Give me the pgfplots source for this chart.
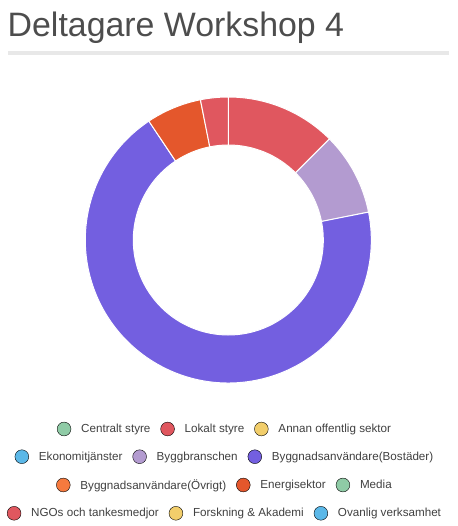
\documentclass[border=0pt]{standalone}
\usepackage{pgfplots}
\usepackage{pgfplotstable}
\pgfplotsset{compat=1.18}
\usepackage{fontspec}
\setmainfont{Liberation Sans}

\definecolor{cCentral}{HTML}{8FCBA6}
\definecolor{cLokalt}{HTML}{E0575F}
\definecolor{cAnnan}{HTML}{F2CE6B}
\definecolor{cEkonomi}{HTML}{5BB8E8}
\definecolor{cBygg}{HTML}{B39BD0}
\definecolor{cBostad}{HTML}{735FE0}
\definecolor{cOvrigt}{HTML}{F67A3E}
\definecolor{cEnergi}{HTML}{E4572C}
\definecolor{titlegray}{HTML}{4D4D4D}
\definecolor{legendgray}{HTML}{404040}
\definecolor{rulegray}{HTML}{E8E8E8}

% participants per sector, legend order (clockwise from the top)
\pgfplotstableread[col sep=comma]{
sector,value,color
Centralt styre,0,cCentral
Lokalt styre,4,cLokalt
Annan offentlig sektor,0,cAnnan
Ekonomitjänster,0,cEkonomi
Byggbranschen,3,cBygg
Byggnadsanvändare(Bostäder),22,cBostad
Byggnadsanvändare(Övrigt),0,cOvrigt
Energisektor,2,cEnergi
Media,0,cCentral
NGOs och tankesmedjor,1,cLokalt
Forskning & Akademi,0,cAnnan
Ovanlig verksamhet,0,cEkonomi
}\datatable

\pgfplotsset{
  rowlegend/.style={
    hide axis, scale only axis, width=10bp, height=10bp,
    anchor=center, xmin=0, xmax=1, ymin=0, ymax=1,
    legend columns=-1,
    legend image code/.code={\fill[##1] (0bp,0bp) circle (6.9bp);},
    legend style={at={(0.5,0.5)}, anchor=center, draw=none, fill=none,
      inner sep=0pt, text=legendgray,
      font=\fontsize{11.7}{14}\selectfont,
      nodes={inner sep=0pt},
      /tikz/every odd column/.append style={column sep=10bp},
      /tikz/every even column/.append style={column sep=10bp}},
  },
}

\begin{document}
\begin{tikzpicture}
\path[use as bounding box] (0,0) rectangle (458bp,526bp);

\node[anchor=base west, inner sep=0pt, text=titlegray,
  font=\fontsize{34}{40}\selectfont] at (7.5bp,489.3bp) {Deltagare Workshop 4};
\fill[rulegray] (8bp,471bp) rectangle (449bp,474.5bp);

% total
\def\total{0}
\pgfplotsforeachungrouped \i in {0,...,11}{%
  \pgfplotstablegetelem{\i}{value}\of\datatable
  \pgfmathsetmacro\total{\total+\pgfplotsretval}%
}

\begin{axis}[at={(228.3bp,286bp)}, anchor=center, hide axis,
  x=1bp, y=1bp, xmin=-150, xmax=150, ymin=-150, ymax=150]
\def\cum{0}
\pgfplotsforeachungrouped \i in {0,...,11}{%
  \pgfplotstablegetelem{\i}{value}\of\datatable
  \let\v\pgfplotsretval
  \pgfplotstablegetelem{\i}{color}\of\datatable
  \let\c\pgfplotsretval
  \pgfmathsetmacro\aone{90-360*\cum/\total}%
  \pgfmathsetmacro\atwo{90-360*(\cum+\v)/\total}%
  \pgfmathsetmacro\cum{\cum+\v}%
  \ifdim\v pt>0pt
    \edef\temp{\noexpand\fill[\c, draw=white, line width=1bp]
      (axis cs:{143*cos(\aone)},{143*sin(\aone)})
      arc[start angle=\aone, end angle=\atwo, radius=143bp]
      -- (axis cs:{95*cos(\atwo)},{95*sin(\atwo)})
      arc[start angle=\atwo, end angle=\aone, radius=95bp] -- cycle;}%
    \temp
  \fi
}
\end{axis}

\begin{axis}[rowlegend, at={(224bp,97bp)}]
\addlegendimage{fill=cCentral}\addlegendentry{Centralt styre}
\addlegendimage{fill=cLokalt}\addlegendentry{Lokalt styre}
\addlegendimage{fill=cAnnan}\addlegendentry{Annan offentlig sektor}
\end{axis}
\begin{axis}[rowlegend, at={(224bp,69.3bp)}]
\addlegendimage{fill=cEkonomi}\addlegendentry{Ekonomitjänster}
\addlegendimage{fill=cBygg}\addlegendentry{Byggbranschen}
\addlegendimage{fill=cBostad}\addlegendentry{Byggnadsanvändare(Bostäder)}
\end{axis}
\begin{axis}[rowlegend, at={(224bp,41bp)}]
\addlegendimage{fill=cOvrigt}\addlegendentry{Byggnadsanvändare(Övrigt)}
\addlegendimage{fill=cEnergi}\addlegendentry{Energisektor}
\addlegendimage{fill=cCentral}\addlegendentry{Media}
\end{axis}
\begin{axis}[rowlegend, at={(224bp,12.7bp)}]
\addlegendimage{fill=cLokalt}\addlegendentry{NGOs och tankesmedjor}
\addlegendimage{fill=cAnnan}\addlegendentry{Forskning \& Akademi}
\addlegendimage{fill=cEkonomi}\addlegendentry{Ovanlig verksamhet}
\end{axis}
\end{tikzpicture}
\end{document}
